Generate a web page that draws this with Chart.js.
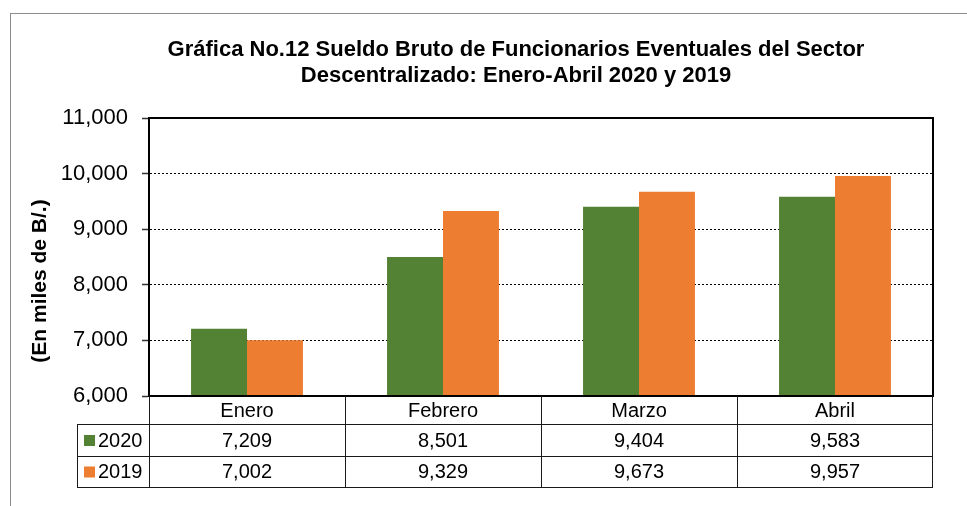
<!DOCTYPE html>
<html>
<head>
<meta charset="utf-8">
<script src="https://cdn.jsdelivr.net/npm/chart.js@4/dist/chart.umd.min.js"></script>
<style>
  body { margin: 0; background: #fff; }
  canvas { display: block; }
</style>
</head>
<body>
<canvas id="grafica" width="967" height="506"></canvas>
<script>
// datos de la gráfica
const meses = ['Enero', 'Febrero', 'Marzo', 'Abril'];
const series = ['2020', '2019'];
const valores2020 = [7209, 8501, 9404, 9583];
const valores2019 = [7002, 9329, 9673, 9957];
const ejeYMin = 6000;
const ejeYMax = 11000;
const ejeYPaso = 1000;

const titulo = ['Gráfica No.12 Sueldo Bruto de Funcionarios Eventuales del Sector', 'Descentralizado: Enero-Abril 2020 y 2019'];
const tituloEjeY = '(En miles de B/.)';

const VERDE = '#548235';
const NARANJA = '#ED7D31';
const FUENTE = 'Arial, "Liberation Sans", sans-serif';

const fmt = v => v.toLocaleString('en-US');

// marco exterior, título y rótulo del eje Y
const marcoPlugin = {
    id: 'marco',
    beforeDraw(chart) {
        const ctx = chart.ctx;
        ctx.save();
        ctx.strokeStyle = '#8c8c8c';
        ctx.lineWidth = 1;
        ctx.strokeRect(10.5, 13.5, 1000, 600);

        ctx.fillStyle = '#000';
        ctx.font = 'bold 22px ' + FUENTE;
        ctx.textAlign = 'center';
        ctx.textBaseline = 'alphabetic';
        ctx.fillText(titulo[0], 516, 56);
        ctx.fillText(titulo[1], 516, 82);

        ctx.translate(40, 281);
        ctx.rotate(-Math.PI / 2);
        ctx.font = 'bold 21px ' + FUENTE;
        ctx.textBaseline = 'middle';
        ctx.fillText(tituloEjeY, 0, 0);
        ctx.restore();
    },
    afterDraw(chart) {
        const ctx = chart.ctx;
        const a = chart.chartArea;
        const x = chart.scales.x;
        ctx.save();

        // borde del área de trazado
        ctx.strokeStyle = '#000';
        ctx.lineWidth = 2;
        ctx.strokeRect(a.left, a.top, a.right - a.left, a.bottom - a.top);

        // tabla de datos debajo del eje
        const filas = [a.bottom, a.bottom + 28, a.bottom + 60, a.bottom + 91];
        const izqLeyenda = 77;
        const medio = (x.getPixelForValue(1) - x.getPixelForValue(0)) / 2;

        ctx.strokeStyle = '#1a1a1a';
        ctx.lineWidth = 1;
        ctx.beginPath();
        for (let i = 1; i < filas.length; i++) {
            const y = Math.round(filas[i]) + 0.5;
            ctx.moveTo(izqLeyenda, y);
            ctx.lineTo(a.right, y);
        }
        meses.forEach((m, i) => {
            const xi = Math.round(x.getPixelForValue(i) - medio) + 0.5;
            ctx.moveTo(xi, filas[0]);
            ctx.lineTo(xi, filas[3]);
        });
        const xr = Math.round(a.right) - 0.5;
        ctx.moveTo(xr, filas[0]);
        ctx.lineTo(xr, filas[3]);
        ctx.moveTo(izqLeyenda + 0.5, filas[1]);
        ctx.lineTo(izqLeyenda + 0.5, filas[3]);
        ctx.stroke();

        ctx.fillStyle = '#000';
        ctx.font = '20px ' + FUENTE;
        ctx.textBaseline = 'middle';
        ctx.textAlign = 'center';
        const datos = [valores2020, valores2019];
        meses.forEach((m, i) => {
            const cx = x.getPixelForValue(i);
            ctx.fillText(m, cx, (filas[0] + filas[1]) / 2 + 1);
            datos.forEach((serie, j) => {
                ctx.fillText(fmt(serie[i]), cx, (filas[j + 1] + filas[j + 2]) / 2 + 1);
            });
        });

        // leyenda dentro de la tabla
        const colores = [VERDE, NARANJA];
        ctx.textAlign = 'left';
        series.forEach((s, j) => {
            const cy = (filas[j + 1] + filas[j + 2]) / 2;
            ctx.fillStyle = colores[j];
            ctx.fillRect(84, cy - 5, 11, 11);
            ctx.fillStyle = '#000';
            ctx.fillText(s, 98, cy + 1);
        });
        ctx.restore();
    }
};

new Chart(document.getElementById('grafica'), {
    type: 'bar',
    data: {
        labels: meses,
        datasets: [
            { label: series[0], data: valores2020, backgroundColor: VERDE, borderWidth: 0 },
            { label: series[1], data: valores2019, backgroundColor: NARANJA, borderWidth: 0 }
        ]
    },
    options: {
        responsive: false,
        animation: false,
        devicePixelRatio: 1,
        layout: { padding: { top: 118, bottom: 110, right: 34, left: 0 } },
        datasets: { bar: { categoryPercentage: 0.571, barPercentage: 1 } },
        plugins: {
            legend: { display: false },
            title: { display: false },
            tooltip: { enabled: false }
        },
        scales: {
            x: { display: false },
            y: {
                min: ejeYMin,
                max: ejeYMax,
                afterFit(scale) { scale.width = 149; },
                ticks: {
                    stepSize: ejeYPaso,
                    padding: 14,
                    color: '#000',
                    font: { family: FUENTE, size: 22 },
                    callback: v => fmt(v)
                },
                grid: {
                    color: '#000',
                    lineWidth: 1,
                    tickLength: 7,
                    tickColor: '#333',
                    tickWidth: 1.5
                },
                border: { display: true, color: '#000', width: 2, dash: [2, 2] }
            }
        }
    },
    plugins: [marcoPlugin]
});
</script>
</body>
</html>
